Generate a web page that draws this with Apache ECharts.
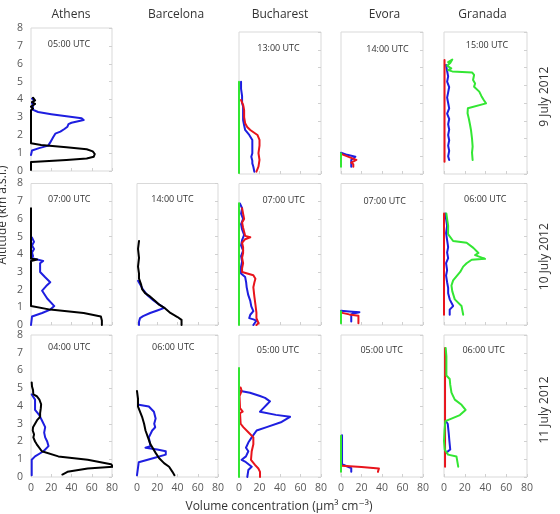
<!DOCTYPE html>
<html><head><meta charset="utf-8">
<script src="https://cdn.jsdelivr.net/npm/echarts@6/dist/echarts.min.js"></script>
<style>html,body{margin:0;padding:0;background:#fff}#c{width:560px;height:514px}</style>
</head><body><div id="c"></div>
<script>
// ---------- categories / labels ----------
const stations = ['Athens', 'Barcelona', 'Bucharest', 'Evora', 'Granada'];
const dates = ['9 July 2012', '10 July 2012', '11 July 2012'];
const times = [
  ['05:00 UTC', null, '13:00 UTC', '14:00 UTC', '15:00 UTC'],
  ['07:00 UTC', '14:00 UTC', '07:00 UTC', '07:00 UTC', '06:00 UTC'],
  ['04:00 UTC', '06:00 UTC', '05:00 UTC', '05:00 UTC', '06:00 UTC']
];
const xTicks = [0, 20, 40, 60, 80];
const yTicks = [0, 1, 2, 3, 4, 5, 6, 7, 8];
const yTitle = 'Altitude (km a.s.l.)';
const xTitle = 'Volume concentration (μm³ cm⁻³)';

// ---------- profiles [concentration, altitude km] ----------
// 9 July 2012
const ath9Blue = [[1,4.05],[3,3.95],[1,3.8],[2,3.6],[1,3.45],[7,3.3],[20,3.18],[35,3.06],[50,2.95],[52,2.85],[40,2.7],[37,2.62],[36,2.48],[33,2.35],[29,2.2],[24,2.09],[22,1.9],[19,1.6],[17,1.42],[8,1.28],[1,1.15],[0,0.9]];
const ath9Black = [[2,4.1],[4,3.95],[1,3.85],[4,3.75],[0,3.6],[2,3.5],[0,3.4],[0,2.5],[0,1.55],[10,1.45],[35,1.33],[55,1.22],[61,1.1],[63,0.95],[62,0.8],[55,0.7],[35,0.62],[5,0.52],[0,0.5],[0,0.05]];
const buc9Blue = [[2,5.2],[2,4.8],[3,4.4],[3,4.0],[4,3.8],[4,3.4],[4,3.04],[5,2.75],[6,2.48],[10,2.2],[13,1.92],[13,1.6],[13,1.17],[12,0.97],[13,0.75],[13,0.6],[14,0.41],[15,0.13]];
const buc9Red = [[2,4.17],[4,3.9],[5,3.6],[5,3.2],[6,2.86],[8,2.65],[11,2.48],[18,2.2],[20,1.92],[20,1.6],[19,1.17],[20,0.8],[19,0.41],[17,0.13]];
const buc9Green = [[0,5.2],[0,0.05]];
const evo9Blue = [[0,1.2],[6,1.08],[14,0.97],[10,0.79],[10,0.41]];
const evo9Red = [[0,1.13],[8,0.95],[15,0.79],[10,0.64],[12,0.55],[12,0.41]];
const evo9Green = [[0,1.17],[0,0.41]];
const gra9Blue = [[2,6.14],[3,5.8],[4,5.5],[3,5.2],[5,4.9],[4,4.6],[3,4.3],[4,4.0],[5,3.7],[3,3.4],[5,3.1],[4,2.8],[5,2.5],[4,2.2],[5,1.9],[4,1.6],[5,1.3],[4,1.0],[5,0.79]];
const gra9Red = [[0.5,6.42],[0.5,0.69]];
const gra9Green = [[4,6.3],[8,6.45],[6,6.25],[3,6.1],[7,5.95],[4,5.85],[8,5.78],[27,5.72],[29,5.58],[28,5.3],[30,5.1],[29,4.92],[34,4.64],[36,4.4],[38,4.2],[40.5,3.98],[23,3.7],[22.7,3.42],[24,3.1],[25,2.8],[26,2.48],[27,2.0],[27.6,1.54],[27,1.2],[27.6,0.79]];
// 10 July 2012
const ath10Blue = [[1,4.94],[3,4.7],[1,4.5],[3,4.3],[1,4.1],[2,3.9],[1,3.78],[12,3.62],[9,3.49],[9,3.2],[9,3.0],[14,2.7],[19,2.42],[15,2.2],[11,1.94],[16,1.5],[23,1.07],[19,0.87],[11,0.68],[1,0.48],[0,0.0]];
const ath10Black = [[0,6.6],[0,5.0],[0,3.75],[6,3.7],[0,3.62],[0,2.5],[0,1.07],[19,0.87],[52,0.68],[69,0.48],[70,0.25],[70,0.0]];
const bar10Blue = [[1,2.5],[4,2.2],[6,2.0],[10,1.7],[16,1.4],[22,1.15],[27,0.97],[20,0.82],[13,0.68],[6,0.5],[3,0.39],[2,0.19],[2,0.0]];
const bar10Black = [[2,4.75],[1,4.3],[2,3.8],[1,3.3],[2,2.9],[2,2.62],[4,2.3],[5,2.03],[8,1.8],[12,1.65],[18,1.36],[22,1.15],[27,0.97],[33,0.68],[40,0.45],[44,0.29],[44,0.0]];
const buc10Blue = [[1,6.86],[3,6.6],[2,6.3],[4,6.0],[2,5.7],[3,5.4],[5,5.1],[3,4.8],[2,4.5],[4,4.2],[2,3.9],[3,3.6],[2,3.3],[2,2.91],[6,2.71],[7,2.4],[7.5,2.13],[9,1.7],[11,1.36],[12,1.05],[14,0.78],[11,0.58],[10,0.39],[14,0.32],[17,0.25],[14,0.0]];
const buc10Red = [[3,6.6],[4,6.3],[5,6.0],[3,5.8],[4,5.5],[6,5.04],[11,4.96],[6,4.85],[3,4.65],[4,4.4],[4,4.07],[3,3.8],[4,3.49],[3,3.2],[3,3.0],[14,2.81],[16,2.62],[15,2.4],[14,2.13],[15,1.6],[16,1.16],[17,0.7],[17,0.39],[19,0.1],[17,0.0]];
const buc10Green = [[0,6.88],[0,0.0]];
const evo10Blue = [[0,0.8],[8,0.76],[18,0.72],[12,0.65],[10,0.6],[10,0.2]];
const evo10Red = [[0,0.7],[8,0.6],[17,0.52],[17,0.1]];
const evo10Green = [[0,0.78],[0,0.1]];
const gra10Blue = [[1.3,6.3],[2,6.0],[3,5.6],[2,5.2],[3,4.8],[4,4.4],[3,4.1],[4,3.78],[2,3.5],[3,3.1],[2,2.8],[3,2.42],[4,2.1],[4,1.8],[5.5,1.45],[8.8,1.07],[5.5,0.87],[5.5,0.58]];
const gra10Red = [[0,6.3],[0,0.58]];
const gra10Green = [[2.3,6.3],[3,6.0],[4,5.6],[3.9,5.14],[8.8,4.75],[21.8,4.65],[28.3,4.36],[33.2,4.07],[30,3.95],[39.6,3.74],[26.7,3.69],[21.8,3.49],[18.5,3.3],[20,3.2],[15.6,3.0],[12,2.75],[8.8,2.52],[7.2,2.23],[8,1.9],[10.4,1.45],[16.9,1.07],[18.5,0.58]];
// 11 July 2012
const ath11Blue = [[0.7,4.65],[4,4.36],[4,4.1],[4,3.78],[8,3.5],[10.7,3.2],[14,2.81],[13,2.5],[14,2.23],[16,2.0],[17.3,1.74],[12.3,1.45],[4,1.16],[0.7,0.97],[0.7,0.5],[0.7,0.1]];
const ath11Black = [[0.7,5.33],[1,5.1],[2,4.9],[2.3,4.65],[5.7,4.55],[8.3,4.36],[10,4.1],[9.7,3.88],[9,3.6],[9,3.39],[6,3.2],[4,3.0],[2,2.8],[1.7,2.62],[3,2.4],[2.3,2.23],[4,2.0],[5.7,1.84],[10.7,1.45],[27,1.16],[56,0.97],[79,0.72],[81,0.58],[56,0.48],[36,0.29],[31,0.14]];
const bar11Blue = [[1.7,4.07],[11.7,3.97],[16.7,3.68],[18.4,3.29],[17,3.0],[18,2.8],[15,2.62],[11.7,2.23],[13.3,1.74],[8.4,1.65],[20,1.55],[28.4,1.45],[28.4,1.26],[16.7,1.07],[1.7,0.83],[0,0.1]];
const bar11Black = [[0,4.84],[1,4.4],[1,3.97],[5,3.39],[7,3.0],[8.4,2.62],[11,2.2],[13.3,1.84],[18.4,1.36],[21.7,1.07],[26.7,0.78],[31.7,0.58],[35,0.29],[37,0.1]];
const buc11Blue = [[1.6,4.85],[10.7,4.75],[20.5,4.56],[25.4,4.46],[30.2,4.26],[27,4.07],[23.8,3.88],[20.5,3.68],[36,3.5],[49.8,3.39],[41.6,3.1],[27,2.81],[17.2,2.62],[12.4,2.23],[9.1,1.94],[6.8,1.65],[9.1,1.45],[6.8,1.16],[2.6,0.97],[5.9,0.87],[12.4,0.58],[9.1,0.39],[8.1,0.0]];
const buc11Red = [[1.6,5.04],[2.6,4.85],[1,4.75],[0.5,4.56],[1,3.88],[3.6,3.68],[1,3.6],[1.6,3.0],[4.2,2.81],[9.1,2.52],[14,2.23],[14,1.84],[12.4,1.45],[11.7,0.97],[15.6,0.68],[18.9,0.48],[20.5,0.29],[20.5,0.0]];
const buc11Green = [[0,6.14],[0,0.0]];
const evo11Blue = [[1,2.35],[1,0.72],[8,0.55],[10,0.5],[10,0.3]];
const evo11Red = [[1,0.64],[20,0.56],[37,0.48],[36,0.29]];
const evo11Green = [[0,2.33],[0,0.29]];
const gra11Blue = [[1,3.2],[3.6,3.0],[4.5,2.5],[5.2,2.03],[6,1.55],[2,1.36]];
const gra11Red = [[1,7.27],[1,0.58]];
const gra11Green = [[1.6,7.27],[2.3,6.8],[2.3,6.2],[2.3,5.72],[5.5,5.52],[6,5.2],[7.2,4.75],[10.4,4.36],[16.9,4.07],[20.8,3.78],[15.3,3.49],[7.2,3.29],[1.3,3.15],[0.5,2.6],[0,2.03],[0.7,1.55],[3.9,1.26],[12,1.16],[13.7,1.07],[13.7,0.58]];

// ---------- panel assembly ----------
const panels = [
  {r:0,c:0,s:[['blue',ath9Blue],['black',ath9Black]]},
  {r:0,c:2,s:[['blue',buc9Blue],['red',buc9Red],['green',buc9Green]]},
  {r:0,c:3,s:[['blue',evo9Blue],['red',evo9Red],['green',evo9Green]]},
  {r:0,c:4,s:[['blue',gra9Blue],['red',gra9Red],['green',gra9Green]]},
  {r:1,c:0,s:[['blue',ath10Blue],['black',ath10Black]]},
  {r:1,c:1,s:[['blue',bar10Blue],['black',bar10Black]]},
  {r:1,c:2,s:[['blue',buc10Blue],['red',buc10Red],['green',buc10Green]]},
  {r:1,c:3,s:[['blue',evo10Blue],['red',evo10Red],['green',evo10Green]]},
  {r:1,c:4,s:[['blue',gra10Blue],['red',gra10Red],['green',gra10Green]]},
  {r:2,c:0,s:[['blue',ath11Blue],['black',ath11Black]]},
  {r:2,c:1,s:[['blue',bar11Blue],['black',bar11Black]]},
  {r:2,c:2,s:[['blue',buc11Blue],['red',buc11Red],['green',buc11Green]]},
  {r:2,c:3,s:[['blue',evo11Blue],['red',evo11Red],['green',evo11Green]]},
  {r:2,c:4,s:[['blue',gra11Blue],['red',gra11Red],['green',gra11Green]]}
];

const colors = {black:'#000000', blue:'#1e1ee0', red:'#e8141c', green:'#33e633'};
const colLeft = [31, 137, 239, 341, 444];
const colWidth = [81, 81, 82, 82, 83];
function box(r, c) {
  if (r === 0) return c === 0 ? {top:28, height:143} : {top:32, height:142};
  if (r === 1) return {top:183.5, height:141.5};
  return {top:335, height:142};
}
const titleX = [71, 176, 280, 384.5, 482.5];
const timeX = [[69,null,278.5,387.5,487],[69.3,172.5,283.7,384.7,485.3],[69.3,173.3,278,381.7,483.7]];
const timeY = [[44,null,48.3,49,45],[199.3,199,200,201,199],[347.3,347,350.7,350.7,350]];
const dateY = [96.7, 256.7, 410];

const FONT = '"Open Sans", "DejaVu Sans", sans-serif';
const grids = [], xAxes = [], yAxes = [], series = [], graphics = [];
panels.forEach((p, i) => {
  const b = box(p.r, p.c);
  grids.push({left: colLeft[p.c], width: colWidth[p.c], top: b.top, height: b.height,
    show: true, borderColor: '#d9d9d9', borderWidth: 1, backgroundColor: '#fff'});
  xAxes.push({gridIndex: i, type: 'value', min: xTicks[0], max: xTicks[xTicks.length-1], interval: 20,
    axisLine: {show: false}, splitLine: {show: false},
    axisTick: {show: true, inside: true, length: 3, lineStyle: {color: '#d0d0d0'}},
    axisLabel: {show: p.r === 2, color: '#595959', fontSize: 10.5, fontFamily: FONT, margin: 6}});
  yAxes.push({gridIndex: i, type: 'value', min: yTicks[0], max: yTicks[yTicks.length-1], interval: 1, position: 'left',
    axisLine: {show: false}, splitLine: {show: false}, axisTick: {show: false},
    axisLabel: {show: p.c === 0, color: '#595959', fontSize: 10.5, fontFamily: FONT, margin: 8}});
  yAxes.push({gridIndex: i, type: 'value', min: yTicks[0], max: yTicks[yTicks.length-1], interval: 1, position: 'right',
    axisLine: {show: false}, splitLine: {show: false}, axisLabel: {show: false},
    axisTick: {show: true, inside: true, length: 3, lineStyle: {color: '#d0d0d0'}}});
  p.s.forEach(([col, data]) => {
    series.push({type: 'line', xAxisIndex: i, yAxisIndex: 2*i, data: data,
      showSymbol: false, symbol: 'none', silent: true,
      lineStyle: {color: colors[col], width: 2, join: 'round', cap: 'round'},
      itemStyle: {color: colors[col]}});
  });
  const t = times[p.r][p.c];
  if (t) graphics.push({type: 'text', x: timeX[p.r][p.c], y: timeY[p.r][p.c], z: 100,
    style: {text: t, font: '9px ' + FONT, fill: '#333', textAlign: 'center', textVerticalAlign: 'middle', align: 'center', verticalAlign: 'middle'}});
});
stations.forEach((s, c) => graphics.push({type: 'text', x: titleX[c], y: 15,
  style: {text: s, font: '12px ' + FONT, fill: '#333', textAlign: 'center', textVerticalAlign: 'middle', align: 'center', verticalAlign: 'middle'}}));
dates.forEach((d, r) => graphics.push({type: 'text', x: 545, y: dateY[r], rotation: Math.PI/2,
  style: {text: d, font: '12px ' + FONT, fill: '#333', textAlign: 'center', textVerticalAlign: 'middle', align: 'center', verticalAlign: 'middle'}}));
graphics.push({type: 'text', x: 3, y: 215, rotation: Math.PI/2,
  style: {text: yTitle, font: '12px ' + FONT, fill: '#333', textAlign: 'center', textVerticalAlign: 'middle', align: 'center', verticalAlign: 'middle'}});
graphics.push({type: 'text', x: 279, y: 507,
  style: {text: xTitle, font: '12px ' + FONT, fill: '#333', textAlign: 'center', textVerticalAlign: 'middle', align: 'center', verticalAlign: 'middle'}});

const chart = echarts.init(document.getElementById('c'), null, {renderer: 'canvas'});
chart.setOption({animation: false, backgroundColor: '#fff', grid: grids, xAxis: xAxes, yAxis: yAxes, series: series, graphic: graphics});
</script></body></html>
